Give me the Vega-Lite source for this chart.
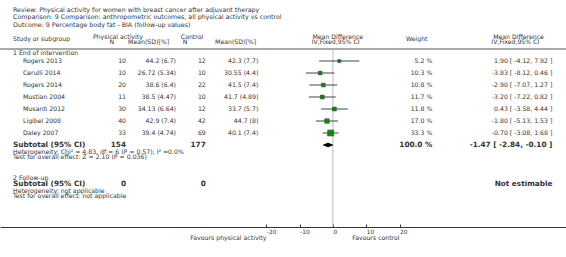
{
  "$schema": "https://vega.github.io/schema/vega-lite/v6.json",
  "width": 566,
  "height": 196,
  "autosize": {"type": "none"},
  "padding": {"top": 31, "bottom": 30, "left": 0, "right": 0},
  "background": "white",
  "title": {
    "text": ["Review:  Physical activity for women with breast cancer after adjuvant therapy", "Comparison:  9 Comparison: anthropometric outcomes, all physical activity vs control", "Outcome:  9 Percentage body fat - BIA (follow-up values)"],
    "anchor": "start", "frame": "group", "orient": "top",
    "font": "DejaVu Sans", "fontSize": 6.3, "fontWeight": "normal", "color": "#333",
    "lineHeight": 7.4, "dx": 13, "offset": 3
  },
  "config": {
    "view": {"stroke": null},
    "text": {"font": "DejaVu Sans", "fontSize": 6.2, "color": "#333", "baseline": "middle"}
  },
  "datasets": {
    "studies": [
      {"study": "Rogers 2013", "row": 1, "n1": 10, "ms1": "44.2 (6.7)", "n2": 12, "ms2": "42.3 (7.7)", "weight": 5.2, "wtxt": "5.2 %", "md": 1.90, "lo": -4.12, "hi": 7.92, "ci": "1.90 [ -4.12, 7.92 ]"},
      {"study": "Cerulli 2014", "row": 2, "n1": 10, "ms1": "26.72 (5.34)", "n2": 10, "ms2": "30.55 (4.4)", "weight": 10.3, "wtxt": "10.3 %", "md": -3.83, "lo": -8.12, "hi": 0.46, "ci": "-3.83 [ -8.12, 0.46 ]"},
      {"study": "Rogers 2014", "row": 3, "n1": 20, "ms1": "38.6 (6.4)", "n2": 22, "ms2": "41.5 (7.4)", "weight": 10.8, "wtxt": "10.8 %", "md": -2.90, "lo": -7.07, "hi": 1.27, "ci": "-2.90 [ -7.07, 1.27 ]"},
      {"study": "Mustian 2004", "row": 4, "n1": 11, "ms1": "38.5 (4.47)", "n2": 10, "ms2": "41.7 (4.89)", "weight": 11.7, "wtxt": "11.7 %", "md": -3.20, "lo": -7.22, "hi": 0.82, "ci": "-3.20 [ -7.22, 0.82 ]"},
      {"study": "Musanti 2012", "row": 5, "n1": 30, "ms1": "34.13 (6.64)", "n2": 12, "ms2": "33.7 (5.7)", "weight": 11.8, "wtxt": "11.8 %", "md": 0.43, "lo": -3.58, "hi": 4.44, "ci": "0.43 [ -3.58, 4.44 ]"},
      {"study": "Ligibel 2008", "row": 6, "n1": 40, "ms1": "42.9 (7.4)", "n2": 42, "ms2": "44.7 (8)", "weight": 17.0, "wtxt": "17.0 %", "md": -1.80, "lo": -5.13, "hi": 1.53, "ci": "-1.80 [ -5.13, 1.53 ]"},
      {"study": "Daley 2007", "row": 7, "n1": 33, "ms1": "39.4 (4.74)", "n2": 69, "ms2": "40.1 (7.4)", "weight": 33.3, "wtxt": "33.3 %", "md": -0.70, "lo": -3.08, "hi": 1.68, "ci": "-0.70 [ -3.08, 1.68 ]"}
    ],
    "subtotals": [
      {"group": "1 End of intervention", "row": 8, "n1": 154, "n2": 177, "wtxt": "100.0 %", "md": -1.47, "lo": -2.84, "hi": -0.10, "ci": "-1.47 [ -2.84, -0.10 ]"},
      {"group": "2 Follow-up", "row": 11.28, "n1": 0, "n2": 0, "wtxt": "", "ci": "Not estimable"}
    ],
    "lines": [
      {"kind": "label", "row": -0.87, "text": "Study or subgroup"},
      {"kind": "label", "row": 0.35, "text": "1 End of intervention"},
      {"kind": "subtotal", "row": 8, "text": "Subtotal (95% CI)"},
      {"kind": "note", "row": 8.56, "text": "Heterogeneity: Chi² = 4.83, df = 6 (P = 0.57); I² =0.0%"},
      {"kind": "note", "row": 9.03, "text": "Test for overall effect: Z = 2.10 (P = 0.036)"},
      {"kind": "label", "row": 10.72, "text": "2 Follow-up"},
      {"kind": "subtotal", "row": 11.28, "text": "Subtotal (95% CI)"},
      {"kind": "note", "row": 11.81, "text": "Heterogeneity: not applicable"},
      {"kind": "note", "row": 12.28, "text": "Test for overall effect: not applicable"}
    ],
    "headers": [
      {"col": "pa", "row": -1, "text": "Physical activity"},
      {"col": "n1", "row": -0.55, "text": "N"},
      {"col": "ms1", "row": -0.55, "text": "Mean(SD)[%]"},
      {"col": "ctl", "row": -1, "text": "Control"},
      {"col": "n2", "row": -0.55, "text": "N"},
      {"col": "ms2", "row": -0.55, "text": "Mean(SD)[%]"},
      {"col": "md", "row": -1, "text": "Mean Difference"},
      {"col": "iv", "row": -0.55, "text": "IV,Fixed,95% CI"},
      {"col": "wt", "row": -0.87, "text": "Weight"},
      {"col": "md2", "row": -1, "text": "Mean Difference"},
      {"col": "iv2", "row": -0.55, "text": "IV,Fixed,95% CI"}
    ],
    "favours": [
      {"side": "left", "text": "Favours physical activity"},
      {"side": "right", "text": "Favours control"}
    ]
  },
  "data": {"name": "studies"},
  "layer": [
    {
      "data": {"values": [{"part": "header rule"}]},
      "mark": {"type": "rule", "color": "#555", "strokeWidth": 1},
      "encoding": {
        "x": {"datum": -100, "type": "quantitative", "scale": {"domain": [-100, 70], "nice": false, "zero": false},
          "axis": {"values": [-20, -10, 0, 10, 20], "title": null, "grid": false, "ticks": true, "labelExpr": "datum.value", "labelAlign": "left", "labelBaseline": "alphabetic", "labelFont": "DejaVu Sans", "labelFontSize": 5.8, "labelColor": "#333", "labelPadding": 9, "tickSize": -3, "tickColor": "#333", "domainColor": "#333", "labelFlush": false, "labelOverlap": false}},
        "x2": {"datum": 70},
        "y": {"datum": 0, "type": "quantitative", "scale": {"domain": [-1.5, 14.8333], "reverse": true, "nice": false, "zero": false}, "axis": null}
      }
    },
    {
      "data": {"values": [{"part": "line of no effect"}]},
      "mark": {"type": "rule", "color": "#bbb", "strokeWidth": 1},
      "encoding": {"x": {"datum": 0, "type": "quantitative"}, "y": {"datum": 0, "type": "quantitative"}, "y2": {"datum": 14.8333}}
    },
    {
      "mark": {"type": "square", "filled": true, "color": "#00a000", "stroke": "#005000", "strokeWidth": 0.5, "opacity": 1},
      "encoding": {
        "x": {"field": "md", "type": "quantitative"},
        "y": {"field": "row", "type": "quantitative"},
        "size": {"field": "weight", "type": "quantitative", "scale": {"domain": [0, 33.3], "range": [4, 36]}, "legend": null}
      }
    },
    {
      "mark": {"type": "rule", "color": "#444", "strokeWidth": 1},
      "encoding": {"x": {"field": "lo", "type": "quantitative"}, "x2": {"field": "hi"}, "y": {"field": "row", "type": "quantitative"}}
    },
    {
      "data": {"name": "subtotals"},
      "transform": [{"filter": "isValid(datum.md)"}, {"fold": ["lo", "md", "hi"], "as": ["key", "value"]}],
      "mark": {"type": "trail", "color": "black"},
      "encoding": {
        "x": {"field": "value", "type": "quantitative"},
        "y": {"field": "row", "type": "quantitative"},
        "size": {"condition": {"test": "datum.key === 'md'", "value": 4.5}, "value": 0}
      }
    },
    {"data": {"name": "lines"}, "transform": [{"filter": "datum.kind === 'label'"}],
     "mark": {"type": "text", "align": "left"}, "encoding": {"x": {"datum": -96.1}, "y": {"field": "row", "type": "quantitative"}, "text": {"field": "text"}}},
    {"data": {"name": "lines"}, "transform": [{"filter": "datum.kind === 'subtotal'"}],
     "mark": {"type": "text", "align": "left", "fontWeight": "bold", "fontSize": 7.3}, "encoding": {"x": {"datum": -96.1}, "y": {"field": "row", "type": "quantitative"}, "text": {"field": "text"}}},
    {"data": {"name": "lines"}, "transform": [{"filter": "datum.kind === 'note'"}],
     "mark": {"type": "text", "align": "left", "fontSize": 6.2}, "encoding": {"x": {"datum": -96.1}, "y": {"field": "row", "type": "quantitative"}, "text": {"field": "text"}}},
    {"mark": {"type": "text", "align": "left"}, "encoding": {"x": {"datum": -93.1}, "y": {"field": "row", "type": "quantitative"}, "text": {"field": "study"}}},
    {"mark": {"type": "text", "align": "right"}, "encoding": {"x": {"datum": -62.15}, "y": {"field": "row", "type": "quantitative"}, "text": {"field": "n1"}}},
    {"mark": {"type": "text", "align": "right"}, "encoding": {"x": {"datum": -47.14}, "y": {"field": "row", "type": "quantitative"}, "text": {"field": "ms1"}}},
    {"mark": {"type": "text", "align": "right"}, "encoding": {"x": {"datum": -38.2}, "y": {"field": "row", "type": "quantitative"}, "text": {"field": "n2"}}},
    {"mark": {"type": "text", "align": "right"}, "encoding": {"x": {"datum": -22.4}, "y": {"field": "row", "type": "quantitative"}, "text": {"field": "ms2"}}},
    {"mark": {"type": "text", "align": "right"}, "encoding": {"x": {"datum": 29.84}, "y": {"field": "row", "type": "quantitative"}, "text": {"field": "wtxt"}}},
    {"mark": {"type": "text", "align": "right"}, "encoding": {"x": {"datum": 65.9}, "y": {"field": "row", "type": "quantitative"}, "text": {"field": "ci"}}},
    {"data": {"name": "subtotals"}, "mark": {"type": "text", "align": "right", "fontWeight": "bold", "fontSize": 7.3}, "encoding": {"x": {"datum": -62.15}, "y": {"field": "row", "type": "quantitative"}, "text": {"field": "n1"}}},
    {"data": {"name": "subtotals"}, "mark": {"type": "text", "align": "right", "fontWeight": "bold", "fontSize": 7.3}, "encoding": {"x": {"datum": -38.2}, "y": {"field": "row", "type": "quantitative"}, "text": {"field": "n2"}}},
    {"data": {"name": "subtotals"}, "mark": {"type": "text", "align": "right", "fontWeight": "bold", "fontSize": 7.3}, "encoding": {"x": {"datum": 29.84}, "y": {"field": "row", "type": "quantitative"}, "text": {"field": "wtxt"}}},
    {"data": {"name": "subtotals"}, "mark": {"type": "text", "align": "right", "fontWeight": "bold", "fontSize": 7.3}, "encoding": {"x": {"datum": 65.9}, "y": {"field": "row", "type": "quantitative"}, "text": {"field": "ci"}}},
    {"data": {"name": "headers"}, "transform": [{"filter": "datum.col === 'pa'"}], "mark": {"type": "text", "align": "center"}, "encoding": {"x": {"datum": -64.6}, "y": {"field": "row", "type": "quantitative"}, "text": {"field": "text"}}},
    {"data": {"name": "headers"}, "transform": [{"filter": "datum.col === 'n1'"}], "mark": {"type": "text", "align": "center"}, "encoding": {"x": {"datum": -66.45}, "y": {"field": "row", "type": "quantitative"}, "text": {"field": "text"}}},
    {"data": {"name": "headers"}, "transform": [{"filter": "datum.col === 'ms1'"}], "mark": {"type": "text", "align": "center"}, "encoding": {"x": {"datum": -55.37}, "y": {"field": "row", "type": "quantitative"}, "text": {"field": "text"}}},
    {"data": {"name": "headers"}, "transform": [{"filter": "datum.col === 'ctl'"}], "mark": {"type": "text", "align": "center"}, "encoding": {"x": {"datum": -42.33}, "y": {"field": "row", "type": "quantitative"}, "text": {"field": "text"}}},
    {"data": {"name": "headers"}, "transform": [{"filter": "datum.col === 'n2'"}], "mark": {"type": "text", "align": "center"}, "encoding": {"x": {"datum": -44.43}, "y": {"field": "row", "type": "quantitative"}, "text": {"field": "text"}}},
    {"data": {"name": "headers"}, "transform": [{"filter": "datum.col === 'ms2'"}], "mark": {"type": "text", "align": "center"}, "encoding": {"x": {"datum": -29.24}, "y": {"field": "row", "type": "quantitative"}, "text": {"field": "text"}}},
    {"data": {"name": "headers"}, "transform": [{"filter": "datum.col === 'md'"}], "mark": {"type": "text", "align": "center"}, "encoding": {"x": {"datum": 1.46}, "y": {"field": "row", "type": "quantitative"}, "text": {"field": "text"}}},
    {"data": {"name": "headers"}, "transform": [{"filter": "datum.col === 'iv'"}], "mark": {"type": "text", "align": "center"}, "encoding": {"x": {"datum": 0.8}, "y": {"field": "row", "type": "quantitative"}, "text": {"field": "text"}}},
    {"data": {"name": "headers"}, "transform": [{"filter": "datum.col === 'wt'"}], "mark": {"type": "text", "align": "center"}, "encoding": {"x": {"datum": 25.16}, "y": {"field": "row", "type": "quantitative"}, "text": {"field": "text"}}},
    {"data": {"name": "headers"}, "transform": [{"filter": "datum.col === 'md2'"}], "mark": {"type": "text", "align": "center"}, "encoding": {"x": {"datum": 55.73}, "y": {"field": "row", "type": "quantitative"}, "text": {"field": "text"}}},
    {"data": {"name": "headers"}, "transform": [{"filter": "datum.col === 'iv2'"}], "mark": {"type": "text", "align": "center"}, "encoding": {"x": {"datum": 54.77}, "y": {"field": "row", "type": "quantitative"}, "text": {"field": "text"}}},
    {"data": {"name": "favours"}, "transform": [{"filter": "datum.side === 'left'"}], "mark": {"type": "text", "align": "right", "fontSize": 6.2}, "encoding": {"x": {"datum": -20, "type": "quantitative"}, "y": {"datum": 15.75, "type": "quantitative"}, "text": {"field": "text"}}},
    {"data": {"name": "favours"}, "transform": [{"filter": "datum.side === 'right'"}], "mark": {"type": "text", "align": "right", "fontSize": 6.2}, "encoding": {"x": {"datum": 20, "type": "quantitative"}, "y": {"datum": 15.75, "type": "quantitative"}, "text": {"field": "text"}}}
  ]
}
